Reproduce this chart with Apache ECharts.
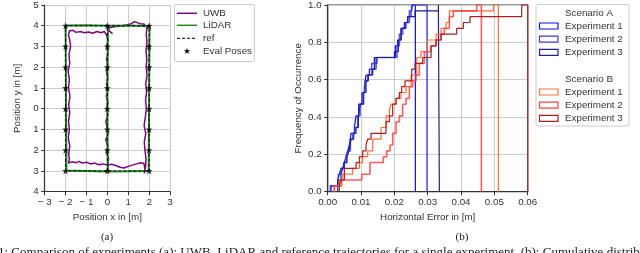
<!DOCTYPE html>
<html><head><meta charset="utf-8">
<script src="https://cdn.jsdelivr.net/npm/echarts@6/dist/echarts.min.js"></script>
<style>html,body{margin:0;padding:0;background:#fff}#c{width:640px;height:253px}</style>
</head><body><div id="c"></div>
<script>
// ---------- (a) trajectories ----------
const uwbPath = [
  [0.05,-2.95],[0.02,-2.7],[0.06,-2.4],[-0.04,-2.1],[0.03,-1.8],[-0.08,-1.5],[0.04,-1.2],[-0.02,-0.9],[-0.07,-0.6],[0.03,-0.3],
  [-0.03,0.0],[0.04,0.3],[-0.05,0.6],[0.02,0.9],[-0.04,1.2],[0.03,1.5],[-0.05,1.8],[0.02,2.1],[-0.04,2.4],[0.04,2.7],
  [-0.03,3.0],[0.03,3.3],[-0.06,3.6],[-0.15,3.72],[-0.3,3.66],[-0.5,3.72],[-0.7,3.64],[-0.9,3.7],[-1.1,3.66],[-1.3,3.72],
  [-1.5,3.68],[-1.65,3.78],[-1.82,3.75],[-1.86,3.55],[-1.8,3.3],[-1.76,3.0],[-1.84,2.6],[-1.8,2.2],[-1.88,1.8],[-1.82,1.4],
  [-1.86,1.0],[-1.79,0.6],[-1.85,0.2],[-1.8,-0.2],[-1.86,-0.6],[-1.82,-1.0],[-1.87,-1.4],[-1.8,-1.8],[-1.85,-2.2],[-1.82,-2.45],
  [-1.86,-2.62],[-1.7,-2.56],[-1.5,-2.6],[-1.35,-2.54],[-1.2,-2.62],[-1.0,-2.58],[-0.8,-2.66],[-0.6,-2.62],[-0.4,-2.7],[-0.2,-2.66],
  [0.0,-2.72],[0.2,-2.68],[0.4,-2.74],[0.6,-2.82],[0.8,-2.86],[1.0,-2.78],[1.2,-2.72],[1.4,-2.66],[1.6,-2.6],[1.75,-2.63],
  [1.8,-2.9],[1.77,-3.12],[1.83,-2.8],[1.85,-2.4],[1.8,-2.0],[1.77,-1.6],[1.84,-1.2],[1.76,-0.8],[1.82,-0.4],[1.87,0.0],
  [1.83,0.4],[1.88,0.8],[1.84,1.2],[1.9,1.6],[1.86,2.0],[1.89,2.4],[1.85,2.8],[1.9,3.2],[1.86,3.6],[1.9,3.9],
  [1.75,4.08],[1.55,4.1],[1.4,4.16],[1.3,4.2],[1.15,4.1],[0.95,4.05],[0.75,4.0],[0.55,3.97],[0.35,3.95],[0.15,3.92],
  [0.05,3.88],[0.1,3.74],[0.25,3.62]
];
const lidarPath = [
  [0.02,-3.02],[0.0,0.5],[0.03,4.0],[-1.0,4.02],[-2.0,4.01],[-1.98,0.5],[-1.96,-2.98],[-1.0,-3.0],[0.0,-3.03],
  [1.0,-3.02],[1.98,-3.0],[2.0,0.5],[2.02,3.98],[1.0,4.01],[0.03,4.0]
];
const refPath = [[0,-3],[0,4],[-2,4],[-2,-3],[0,-3],[2,-3],[2,4],[0,4]];
const evalX = [-2, 0, 2];
const evalY = [4, 3, 2, 1, 0, -1, -2, -3];

// ---------- (b) cumulative error distributions ----------
const N = 32;
const a1X = [0.0008,0.003,0.0035,0.004,0.005,0.0055,0.006,0.0065,0.007,0.008,0.0085,0.0093,0.0103,0.011,0.0115,0.0125,0.014,0.0203,0.021,0.022,0.023,0.024,0.025,0.0255];
const a1C = [1,2,3,4,5,6,7,8,10,11,13,15,17,18,20,21,23,25,26,28,29,30,31,32];
const a1End = 0.0263;
const a2X = [0.001,0.0032,0.004,0.0048,0.0055,0.006,0.0068,0.0075,0.0082,0.009,0.0097,0.0105,0.0112,0.012,0.0132,0.0148,0.0208,0.0215,0.0225,0.0235,0.0245,0.0252];
const a2C = [1,3,4,5,6,7,9,10,11,13,15,17,19,20,22,23,25,27,28,29,31,32];
const a2End = 0.0298;
const a3X = [0.003,0.004,0.0045,0.005,0.0058,0.0064,0.007,0.0078,0.0085,0.0092,0.0098,0.0108,0.0115,0.0122,0.0135,0.0145,0.02,0.0212,0.022,0.0232,0.024,0.0262,0.0332];
const a3C = [2,3,4,5,6,7,9,10,11,13,15,17,19,20,21,23,24,26,28,29,30,31,32];
const a3End = 0.0335;
const b1X = [0.002,0.0035,0.0045,0.0075,0.0095,0.0105,0.012,0.0135,0.016,0.0175,0.0185,0.019,0.0205,0.022,0.0235,0.025,0.0267,0.028,0.0298,0.0325,0.034,0.0355,0.0365,0.0497];
const b1C = [1,2,3,4,5,6,7,9,11,13,14,15,16,17,18,20,23,24,26,27,28,29,31,32];
const b1End = 0.0512;
const b2X = [0.002,0.0042,0.0102,0.0127,0.0167,0.0177,0.0187,0.0195,0.0205,0.0215,0.0225,0.0235,0.0245,0.0255,0.0265,0.0275,0.029,0.031,0.0325,0.034,0.035,0.0365,0.0377,0.0447];
const b2C = [1,2,3,5,6,7,8,10,12,13,15,16,18,19,20,22,24,25,26,27,28,30,31,32];
const b2End = 0.0461;
const b3X = [0.0035,0.004,0.005,0.0085,0.0095,0.0105,0.0115,0.012,0.013,0.0175,0.0185,0.0195,0.0205,0.0215,0.0222,0.0232,0.0252,0.0262,0.0285,0.031,0.0325,0.034,0.0387,0.0407,0.0427,0.0582];
const b3C = [1,2,4,5,6,7,8,9,10,12,13,15,16,17,18,19,21,22,23,25,26,27,28,29,30,32];
const b3End = 0.06;

const xTicksA = [-3,-2,-1,0,1,2,3];
const legendA = ['UWB','LiDAR','ref','Eval Poses'];
const legendB = ['Experiment 1','Experiment 2','Experiment 3'];

function cdf(xs, cs, end) {
  const pts = [];
  let lvl = 0;
  for (let i = 0; i < xs.length; i++) {
    pts.push([xs[i], lvl]);
    lvl = cs[i] / N;
    pts.push([xs[i], lvl]);
  }
  pts.push([end, lvl]);
  pts.push([end, 0]);
  return pts;
}

const colA = ['#0d0dff', '#3d3dd8', '#22228f'];
const colB = ['#ff7038', '#ff4242', '#a82020'];
const starPath = 'path://M0,-10L2.35,-3.24L9.51,-3.09L3.8,1.24L5.88,8.09L0,4L-5.88,8.09L-3.8,1.24L-9.51,-3.09L-2.35,-3.24Z';
const starPts = [[0,-10],[2.35,-3.24],[9.51,-3.09],[3.8,1.24],[5.88,8.09],[0,4],[-5.88,8.09],[-3.8,1.24],[-9.51,-3.09],[-2.35,-3.24]];

const evalPts = [];
evalX.forEach(x => evalY.forEach(y => evalPts.push([x, y])));

const FONT = 'Liberation Sans';
const txt = { fontFamily: FONT, fontSize: 9.8, fill: '#333' };

const chart = echarts.init(document.getElementById('c'), null, { renderer: 'canvas' });

const cdfSeries = [];
[[a1X,a1C,a1End],[a2X,a2C,a2End],[a3X,a3C,a3End]].forEach((d, i) => {
  cdfSeries.push({ type: 'line', xAxisIndex: 1, yAxisIndex: 1, data: cdf(d[0], d[1], d[2]), showSymbol: false, clip: false,
    lineStyle: { color: colA[i], width: i === 1 ? 1.6 : 1.2, opacity: i === 1 ? 0.85 : 1 }, z: 3 });
});
[[b1X,b1C,b1End],[b2X,b2C,b2End],[b3X,b3C,b3End]].forEach((d, i) => {
  cdfSeries.push({ type: 'line', xAxisIndex: 1, yAxisIndex: 1, data: cdf(d[0], d[1], d[2]), showSymbol: false, clip: false,
    lineStyle: { color: colB[i], width: i === 1 ? 1.6 : 1.2, opacity: i === 1 ? 0.85 : 1 }, z: 3 });
});

const graphics = [];
// legend (a)
graphics.push({ type: 'rect', shape: { x: 174.5, y: 4.5, width: 80, height: 57, r: 2 }, style: { fill: '#fff', stroke: '#ccc', lineWidth: 1 }, z: 10 });
const rowsA = [13.3, 25.3, 38.3, 51.3];
graphics.push({ type: 'line', shape: { x1: 177, y1: rowsA[0], x2: 197, y2: rowsA[0] }, style: { stroke: '#800080', lineWidth: 1.5 }, z: 11 });
graphics.push({ type: 'line', shape: { x1: 177, y1: rowsA[1], x2: 197, y2: rowsA[1] }, style: { stroke: '#1a8c1a', lineWidth: 1.5 }, z: 11 });
graphics.push({ type: 'line', shape: { x1: 177, y1: rowsA[2], x2: 197, y2: rowsA[2] }, style: { stroke: '#000', lineWidth: 1, lineDash: [3, 2] }, z: 11 });
graphics.push({ type: 'polygon', shape: { points: starPts.map(p => [187 + p[0] * 0.33, rowsA[3] + p[1] * 0.33]) }, style: { fill: '#000' }, z: 11 });
legendA.forEach((t, i) => graphics.push({ type: 'text', x: 203, y: rowsA[i], style: Object.assign({ text: t, verticalAlign: 'middle' }, txt), z: 11 }));

// legend (b)
graphics.push({ type: 'rect', shape: { x: 536, y: 4.5, width: 93, height: 121.5, r: 2 }, style: { fill: '#fff', stroke: '#ccc', lineWidth: 1 }, z: 10 });
const rowsB = [12.8, 26, 39.2, 52.4, 78.8, 92, 105.2, 118.4];
graphics.push({ type: 'text', x: 565, y: rowsB[0], style: Object.assign({ text: 'Scenario A', verticalAlign: 'middle' }, txt), z: 11 });
graphics.push({ type: 'text', x: 565, y: rowsB[4], style: Object.assign({ text: 'Scenario B', verticalAlign: 'middle' }, txt), z: 11 });
legendB.forEach((t, i) => {
  [[rowsB[1 + i], colA[i]], [rowsB[5 + i], colB[i]]].forEach(([y, c]) => {
    graphics.push({ type: 'rect', shape: { x: 539.5, y: y - 3, width: 18.5, height: 6 }, style: { fill: 'none', stroke: c, lineWidth: 1.2 }, z: 11 });
    graphics.push({ type: 'text', x: 565, y: y, style: Object.assign({ text: t, verticalAlign: 'middle' }, txt), z: 11 });
  });
});
// sub captions
graphics.push({ type: 'text', x: 107, y: 237, style: { text: '(a)', fontFamily: 'Liberation Serif', fontSize: 11, fill: '#222', align: 'center', verticalAlign: 'middle' } });
graphics.push({ type: 'text', x: 462, y: 237, style: { text: '(b)', fontFamily: 'Liberation Serif', fontSize: 11, fill: '#222', align: 'center', verticalAlign: 'middle' } });
graphics.push({ type: 'text', x: -2, y: 246.5, style: { text: '1: Comparison of experiments (a): UWB, LiDAR and reference trajectories for a single experiment. (b): Cumulative distribution', fontFamily: 'Liberation Serif', fontSize: 13, fill: '#222', align: 'left', verticalAlign: 'top' } });

const axisCommon = {
  axisLine: { show: true, onZero: false, lineStyle: { color: '#333', width: 1.2 } },
  axisTick: { show: true, inside: false, length: 3.5, lineStyle: { color: '#333', width: 1 } },
  splitLine: { show: true, lineStyle: { color: '#cccccc', width: 1 } },
  nameLocation: 'middle',
  nameTextStyle: { fontFamily: FONT, fontSize: 9.8, color: '#333' }
};
const lbl = { fontFamily: FONT, fontSize: 9.8, color: '#333' };

chart.setOption({
  animation: false,
  backgroundColor: '#fff',
  grid: [
    { left: 44.7, top: 5, width: 125.3, height: 186.7, show: false },
    { left: 327.7, top: 4, width: 200, height: 187.7, show: true, borderColor: '#333', borderWidth: 1.2, backgroundColor: 'transparent' }
  ],
  xAxis: [
    Object.assign({}, axisCommon, { type: 'value', gridIndex: 0, min: -3, max: 3, interval: 1, name: 'Position x in [m]', nameGap: 16,
      axisLabel: Object.assign({ margin: 5.5, formatter: v => xTicksA.includes(v) ? (v < 0 ? '\u2212 ' + Math.abs(v) : String(v)) : '' }, lbl) }),
    Object.assign({}, axisCommon, { type: 'value', gridIndex: 1, min: 0, max: 0.06, interval: 0.01, name: 'Horizontal Error in [m]', nameGap: 17,
      axisLabel: Object.assign({ margin: 5.5, formatter: v => v.toFixed(2) }, lbl) })
  ],
  yAxis: [
    Object.assign({}, axisCommon, { type: 'value', gridIndex: 0, min: -4, max: 5, interval: 1, name: 'Position y in [m]', nameGap: 22,
      axisLabel: Object.assign({ margin: 6, formatter: v => String(Math.abs(v)) }, lbl) }),
    Object.assign({}, axisCommon, { type: 'value', gridIndex: 1, min: 0, max: 1, interval: 0.2, name: 'Frequency of Occurrence', nameGap: 24,
      axisLabel: Object.assign({ margin: 6, formatter: v => v.toFixed(1) }, lbl) })
  ],
  series: [
    { type: 'line', xAxisIndex: 0, yAxisIndex: 0, data: uwbPath, showSymbol: false, lineStyle: { color: '#800080', width: 1.5 }, z: 2 },
    { type: 'line', xAxisIndex: 0, yAxisIndex: 0, data: lidarPath, showSymbol: false, lineStyle: { color: '#1a8c1a', width: 2 }, z: 3 },
    { type: 'line', xAxisIndex: 0, yAxisIndex: 0, data: refPath, showSymbol: false, lineStyle: { color: '#000', width: 1, type: [3, 2] }, z: 4 },
    { type: 'scatter', xAxisIndex: 0, yAxisIndex: 0, data: evalPts, symbol: starPath, symbolSize: 7, itemStyle: { color: '#000' }, z: 5 }
  ].concat(cdfSeries),
  graphic: graphics
});
</script>
</body></html>
